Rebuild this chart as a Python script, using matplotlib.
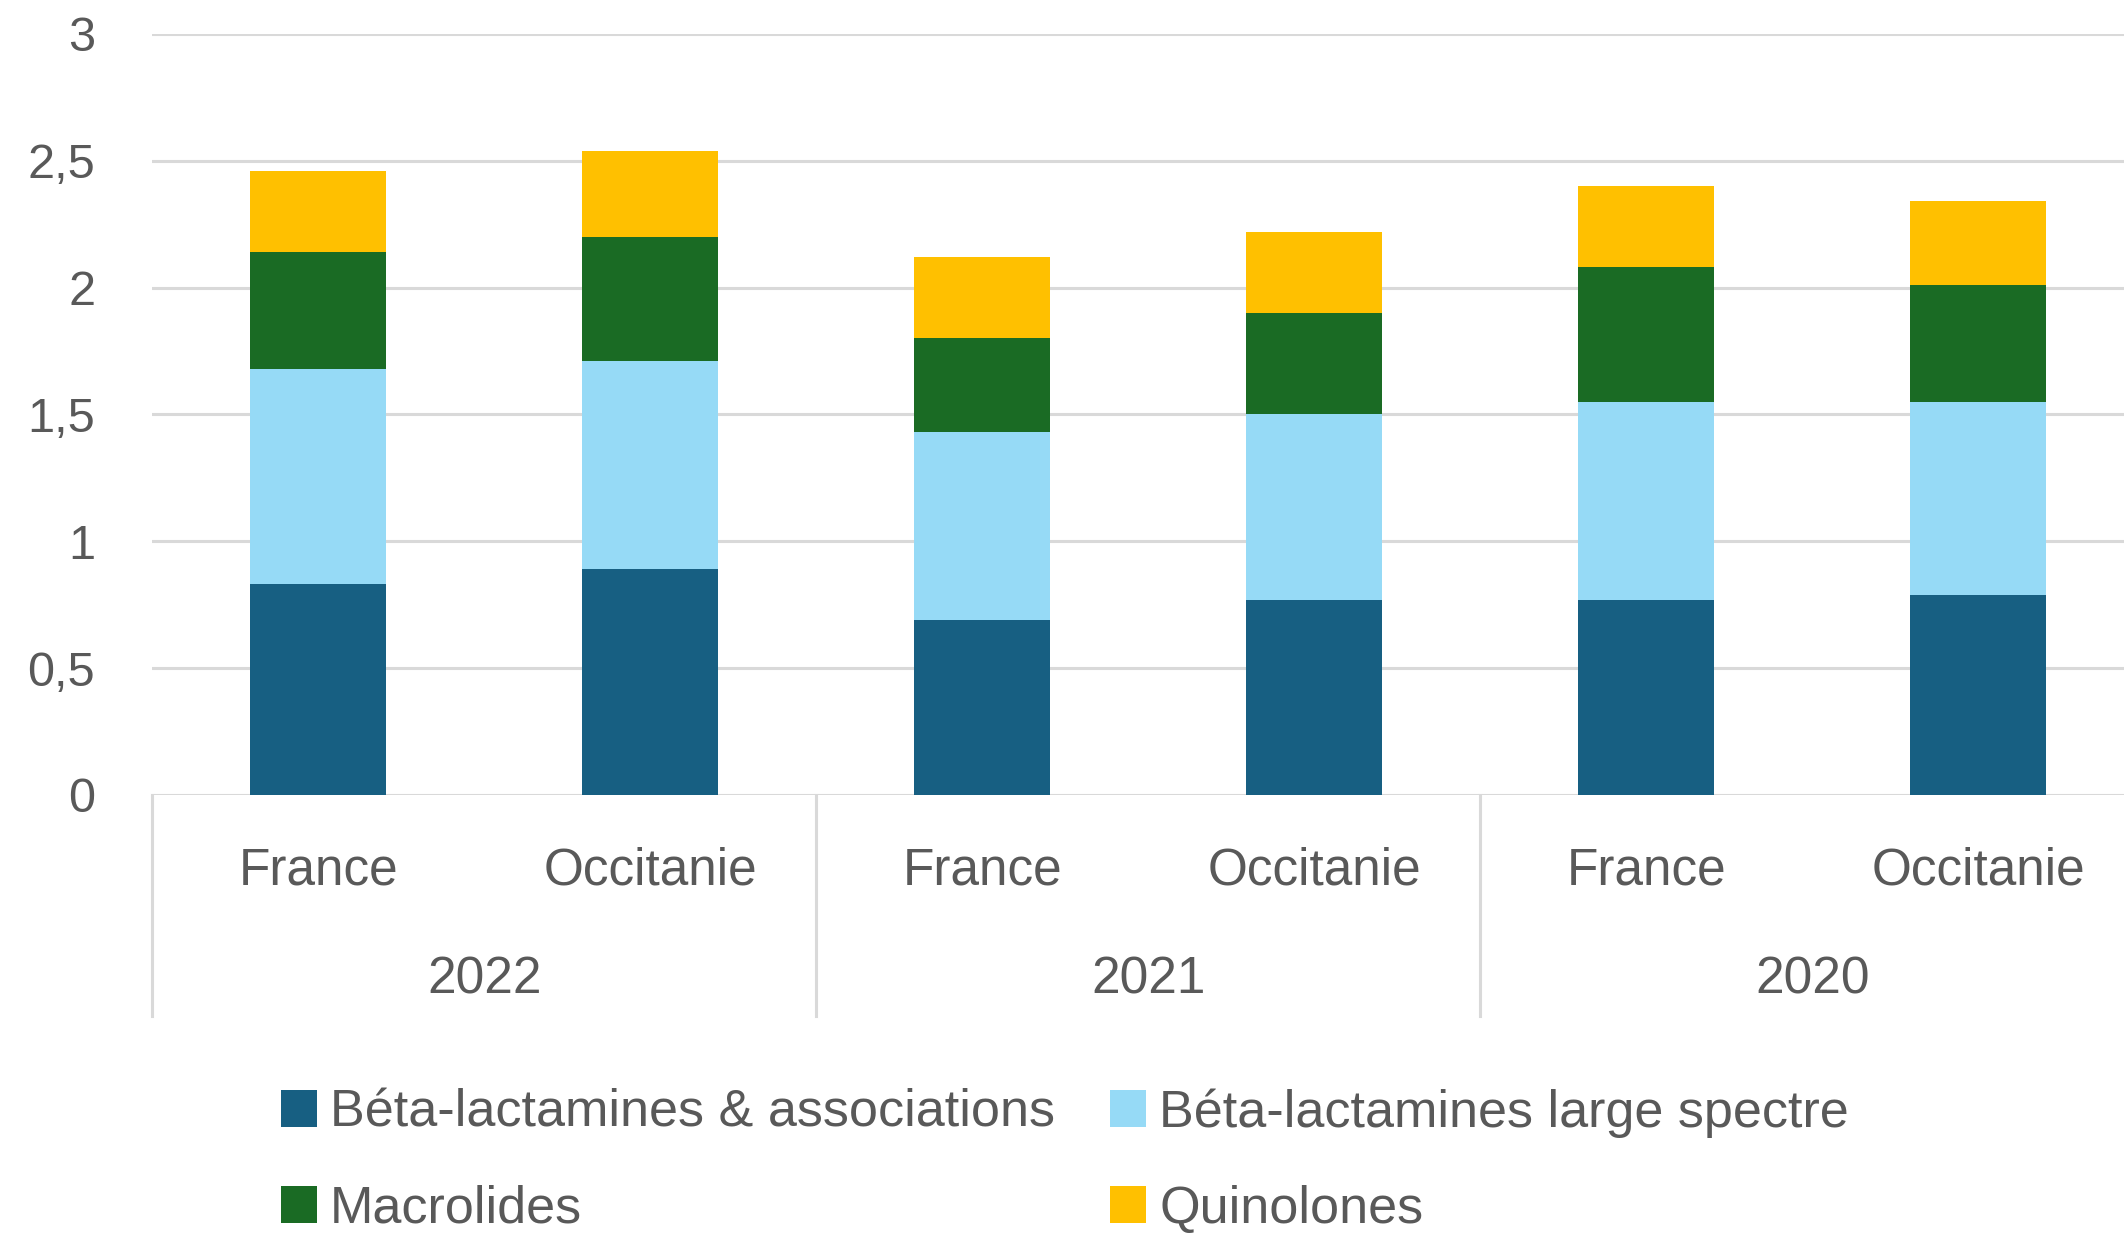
import matplotlib
matplotlib.use("Agg")
from matplotlib import pyplot as plt
import numpy as np

# data
years = ["2022", "2021", "2020"]
zones = ["France", "Occitanie"]
series = ["Béta-lactamines & associations", "Béta-lactamines large spectre",
          "Macrolides", "Quinolones"]
beta_assoc = [0.83, 0.89, 0.69, 0.77, 0.77, 0.79]
beta_large = [0.85, 0.82, 0.74, 0.73, 0.78, 0.76]
macrolides = [0.46, 0.49, 0.37, 0.40, 0.53, 0.46]
quinolones = [0.32, 0.34, 0.32, 0.32, 0.32, 0.33]
yticks = [0, 0.5, 1, 1.5, 2, 2.5, 3]

colors = ["#175F82", "#96DAF6", "#1A6B24", "#FFC000"]
txt = "#595959"
grid = "#D9D9D9"

plt.rcParams['font.family'] = ['Liberation Sans', 'DejaVu Sans']

fig = plt.figure(figsize=(21.24, 12.39), dpi=100)
ax = fig.add_axes([0.0716, 0.3584, 0.938, 0.6142])

x = np.arange(len(years) * len(zones))
bottom = np.zeros(len(x))
for vals, name, c in zip([beta_assoc, beta_large, macrolides, quinolones], series, colors):
    ax.bar(x, vals, width=0.41, bottom=bottom, color=c, label=name, zorder=3)
    bottom += np.array(vals)

ax.set_xlim(-0.5, len(x) - 0.5)
ax.set_ylim(0, 3)
ax.set_yticks(yticks)
ax.set_yticklabels([f"{v:g}".replace(".", ",") for v in yticks])
ax.tick_params(axis='y', length=0, pad=41, labelsize=35, labelcolor=txt)
ax.set_xticks([])
for s in ax.spines.values():
    s.set_visible(False)
ax.yaxis.grid(True, color=grid, linewidth=2.2, zorder=0)
ax.set_axisbelow(True)

tr = ax.get_xaxis_transform()
# zone labels and year labels
for i in x:
    ax.text(i, -0.10, zones[i % 2], transform=tr, ha='center', va='center',
            fontsize=37, color=txt)
for j, yr in enumerate(years):
    ax.text(j * 2 + 0.5, -0.243, yr, transform=tr, ha='center', va='center',
            fontsize=37, color=txt)
for k in range(len(years) + 1):
    ax.plot([k * 2 - 0.5, k * 2 - 0.5], [0, -0.29], transform=tr, color=grid,
            linewidth=2.2, clip_on=False)

handles, labels = ax.get_legend_handles_labels()
order = [0, 2, 1, 3]
fig.legend([handles[i] for i in order], [labels[i] for i in order],
           ncol=2, loc='center left', bbox_to_anchor=(0.110, 0.063),
           frameon=False, fontsize=37.5, labelcolor=txt,
           handlelength=0.7, handleheight=0.7, handletextpad=0.25,
           columnspacing=1.05, labelspacing=0.9)

fig.savefig("out.png", dpi=100)
